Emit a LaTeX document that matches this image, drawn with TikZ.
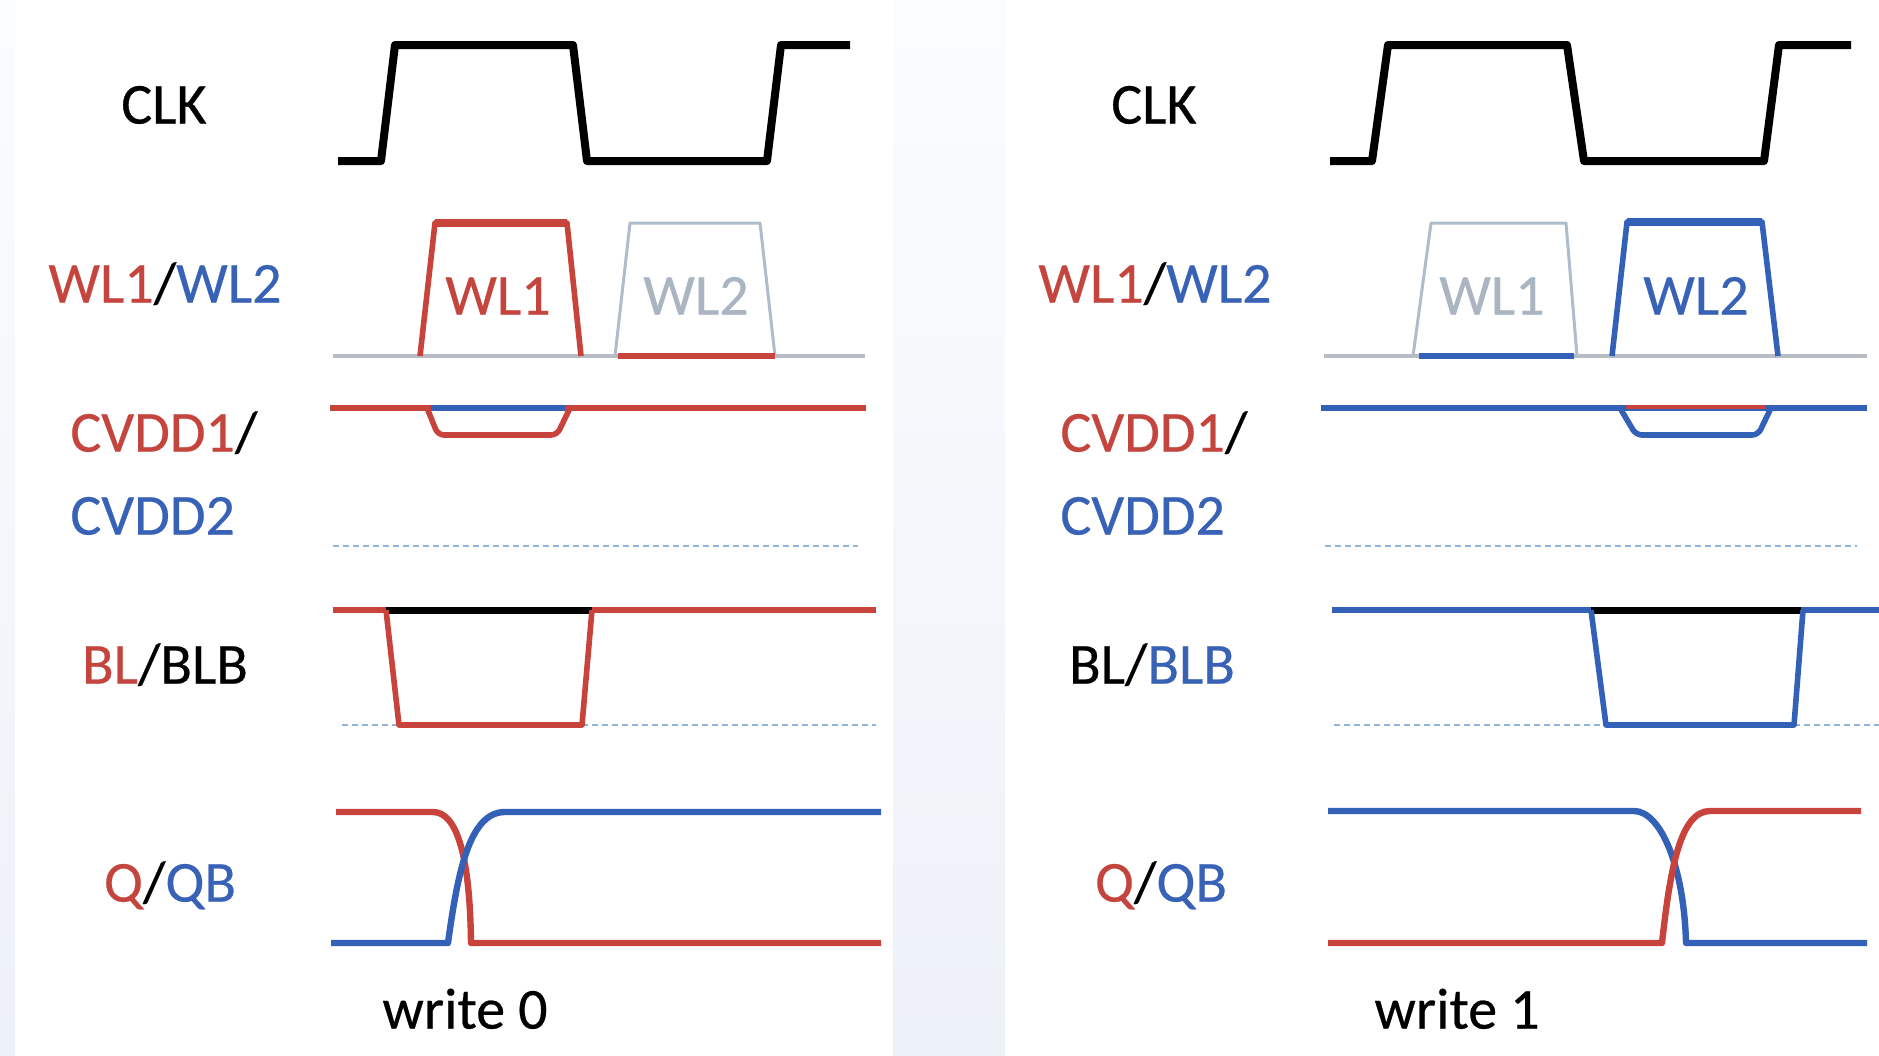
\documentclass[tikz,border=0pt]{standalone}
\usepackage{fontspec}
\setmainfont{Carlito}[FakeBold=0.4]
\definecolor{sigred}{HTML}{C8433C}
\definecolor{sigblue}{HTML}{3461B8}
\definecolor{basegray}{HTML}{B8BDC5}
\definecolor{idlegray}{HTML}{AFBCCB}
\definecolor{refblue}{HTML}{8FB6D8}
\definecolor{txtred}{HTML}{C4453E}
\definecolor{txtblue}{HTML}{3862B6}
\definecolor{txtgray}{HTML}{AAB5C1}
\definecolor{tintA}{HTML}{FBFCFE}
\definecolor{tintB}{HTML}{EDF1F8}

\begin{document}
\begin{tikzpicture}[x=0.5pt,y=-0.5pt,line join=round,
  lbl/.style={inner sep=0pt,text height=18.6pt,text depth=0pt,
    font=\fontsize{29pt}{34pt}\selectfont},
  clkwave/.style={draw=black,line width=4pt},
  wide/.style={line width=3.2pt},
  thin/.style={line width=2.8pt},
  baseline/.style={draw=basegray,line width=2pt},
  idle/.style={draw=idlegray,line width=1.5pt},
  refline/.style={draw=refblue,line width=1.2pt,dash pattern=on 3pt off 2pt}]
\useasboundingbox (0,0) rectangle (1879,1055);

% page background with tinted margins between the two panels
\fill[white] (0,0) rectangle (1879,1055);
\shade[top color=tintA,bottom color=tintB] (0,0) rectangle (15,1055);
\shade[top color=tintA,bottom color=tintB] (893,0) rectangle (1005,1055);

% ================= write 0 =================
\node[lbl] (clkA) at (164,105) {CLK};
\node[lbl] (wlA) at (165,284) {\textcolor{txtred}{WL1}/\textcolor{txtblue}{WL2}};
\node[lbl,anchor=west] (cvA1) at (70,433) {\textcolor{txtred}{CVDD1}/};
\node[lbl,anchor=west] (cvA2) at (70,516) {\textcolor{txtblue}{CVDD2}};
\node[lbl] (blA) at (165,665) {\textcolor{txtred}{BL}/BLB};
\node[lbl] (qA) at (170,883) {\textcolor{txtred}{Q}/\textcolor{txtblue}{QB}};
\node[lbl] (wrA) at (465,1010) {write 0};

% clock
\draw[clkwave] (338,161) -- (381,161) -- (395,45) -- (573,45) -- (587,161)
  -- (767,161) -- (781,45) -- (850,45);

% word lines
\draw[baseline] (333,356) -- (865,356);
\draw[idle] (615,356) -- (630,223) -- (760,223) -- (775,356);
\draw[sigred,line width=3.4pt] (618,356) -- (775,356);
\draw[sigred,thin] (420,356) -- (435,223) -- (567,223) -- (581,356);
\draw[sigred,line width=3.6pt] (435,223) -- (567,223);
\node[lbl,text=txtred] (wl1A) at (498,296) {WL1};
\node[lbl,text=txtgray] (wl2A) at (696,296) {WL2};

% cell supplies
\draw[sigred,wide] (330,408) -- (866,408);
\draw[sigred,thin,rounded corners=3pt] (427,408) -- (438,435) -- (557,435) -- (570,408);
\draw[sigblue,thin] (431,408) -- (565,408);
\draw[refline] (333,546) -- (858,546);

% bit lines
\draw[refline] (342,725) -- (876,725);
\draw[sigred,wide] (333,610) -- (876,610);
\draw[black,line width=3.5pt] (386,610) -- (592,610);
\draw[sigred,thin] (386,610) -- (399,725) -- (582,725) -- (592,610);

% storage nodes
\draw[sigred,wide] (336,812) -- (433,812) .. controls (458,812) and (470,860) .. (471,943) -- (881,943);
\draw[sigblue,wide] (331,943) -- (448,943) .. controls (458,870) and (470,812) .. (505,812) -- (881,812);

% ================= write 1 =================
\node[lbl] (clkB) at (1154,105) {CLK};
\node[lbl] (wlB) at (1155,284) {\textcolor{txtred}{WL1}/\textcolor{txtblue}{WL2}};
\node[lbl,anchor=west] (cvB1) at (1060,433) {\textcolor{txtred}{CVDD1}/};
\node[lbl,anchor=west] (cvB2) at (1060,516) {\textcolor{txtblue}{CVDD2}};
\node[lbl] (blB) at (1152,665) {BL/\textcolor{txtblue}{BLB}};
\node[lbl] (qB) at (1161,883) {\textcolor{txtred}{Q}/\textcolor{txtblue}{QB}};
\node[lbl] (wrB) at (1457,1010) {write 1};

% clock
\draw[clkwave] (1330,161) -- (1372,161) -- (1388,45) -- (1567,45) -- (1584,161)
  -- (1764,161) -- (1779,45) -- (1851,45);

% word lines
\draw[baseline] (1324,356) -- (1867,356);
\draw[idle] (1413,356) -- (1431,223) -- (1566,223) -- (1577,356);
\draw[sigblue,line width=3.4pt] (1419,356) -- (1574,356);
\draw[sigblue,thin] (1612,356) -- (1627,222) -- (1762,222) -- (1778,356);
\draw[sigblue,line width=3.6pt] (1627,222) -- (1762,222);
\node[lbl,text=txtgray] (wl1B) at (1492,296) {WL1};
\node[lbl,text=txtblue] (wl2B) at (1696,296) {WL2};

% cell supplies
\draw[sigblue,wide] (1321,408) -- (1867,408);
\draw[sigblue,thin,rounded corners=3pt] (1620,408) -- (1636,435) -- (1758,435) -- (1771,408);
\draw[sigred,line width=2.4pt] (1626,407) -- (1766,407);
\draw[refline] (1325,546) -- (1857,546);

% bit lines
\draw[refline] (1334,725) -- (1879,725);
\draw[sigblue,wide] (1332,610) -- (1879,610);
\draw[black,line width=3.5pt] (1591,610) -- (1801,610);
\draw[sigblue,thin] (1591,610) -- (1606,725) -- (1794,725) -- (1803,610);

% storage nodes
\draw[sigblue,wide] (1328,811) -- (1634,811) .. controls (1660,811) and (1684,865) .. (1686,943) -- (1867,943);
\draw[sigred,wide] (1328,943) -- (1662,943) .. controls (1670,870) and (1680,811) .. (1710,811) -- (1861,811);
\end{tikzpicture}
\end{document}
